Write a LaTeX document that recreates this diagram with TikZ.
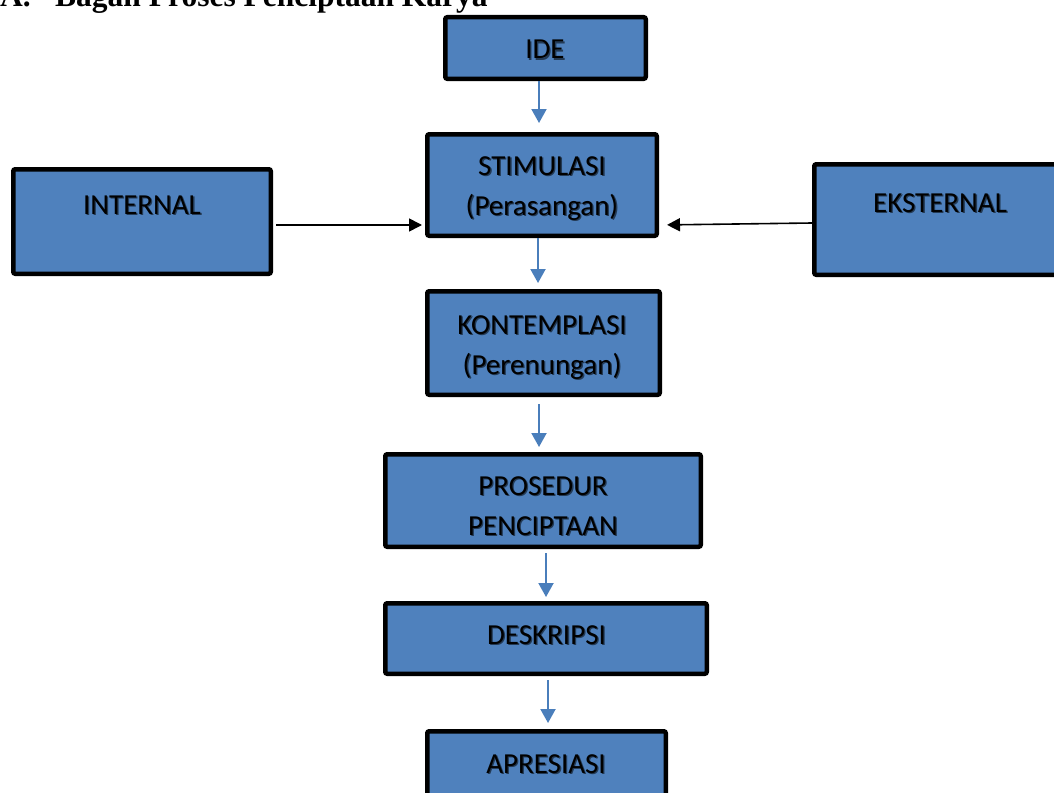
\documentclass[tikz,border=0pt]{standalone}
\usepackage{fontspec}
\setmainfont{Carlito}
\newfontfamily\titlefont{Liberation Serif}
\usetikzlibrary{arrows.meta,calc}
\definecolor{boxblue}{RGB}{79,129,189}
\definecolor{arrowblue}{RGB}{74,126,187}
\newcommand\shtext[1]{\leavevmode\rlap{\raisebox{-1.3pt}{\hspace{1.3pt}\textcolor{black!55!boxblue}{#1}}}#1}
\begin{document}
\begin{tikzpicture}[x=1pt,y=-1pt,
  box/.style={draw=black, line width=4.5pt, fill=boxblue, rounded corners=2pt, inner sep=0pt},
  lbl/.style={font=\fontsize{29}{40}\selectfont, inner sep=0pt, anchor=base},
  flow/.style={draw=arrowblue, line width=2pt, -{Triangle[length=14pt,width=15pt]}},
  side/.style={draw=black, line width=1.6pt, -{Triangle[length=13pt,width=13pt]}}]
\useasboundingbox (0,0) rectangle (1054,792);
\clip (0,0) rectangle (1054,792);
\fill[white] (0,0) rectangle (1054,792);
% title
\node[anchor=base west, inner sep=0pt, font=\titlefont\bfseries\fontsize{31.5}{36}\selectfont] (title) at (0,7) {\makebox[55pt][l]{A.}Bagan Proses Penciptaan Karya};
% boxes
\node[box, minimum width=200.5pt, minimum height=61.5pt] (ide) at (545.5,48) {};
\node[box, minimum width=229.5pt, minimum height=101.5pt] (stim) at (542,185) {};
\node[box, minimum width=257.5pt, minimum height=104.5pt] (internal) at (142,221.5) {};
\node[box, minimum width=249.5pt, minimum height=110.5pt] (ekst) at (939,219.5) {};
\node[box, minimum width=232.5pt, minimum height=103.5pt] (kont) at (543.5,343) {};
\node[box, minimum width=315.5pt, minimum height=92.5pt] (pros) at (543,500.5) {};
\node[box, minimum width=321.5pt, minimum height=70.5pt] (desk) at (546,638.5) {};
\node[box, minimum width=238.5pt, minimum height=71.5pt] (apre) at (546.5,767) {};
% labels
\node[lbl] (ideL) at (545,59) {\shtext{IDE}};
\node[lbl] (stimL) at (542,175) {\begin{tabular}[t]{@{}c@{}}\shtext{STIMULASI}\\\shtext{(Perasangan)}\end{tabular}};
\node[lbl] (internalL) at (142,214) {\shtext{INTERNAL}};
\node[lbl] (ekstL) at (940,212) {\shtext{EKSTERNAL}};
\node[lbl] (kontL) at (542,334) {\begin{tabular}[t]{@{}c@{}}\shtext{KONTEMPLASI}\\\shtext{(Perenungan)}\end{tabular}};
\node[lbl] (prosL) at (543,495) {\begin{tabular}[t]{@{}c@{}}\shtext{PROSEDUR}\\\shtext{PENCIPTAAN}\end{tabular}};
\node[lbl] (deskL) at (546.5,644) {\shtext{DESKRIPSI}};
\node[lbl] (apreL) at (546,773) {\shtext{APRESIASI}};
% blue flow arrows
\draw[flow, shorten >=9pt] (ide.south -| 539,0) -- (stim.north -| 539,0);
\draw[flow, shorten >=6pt] (stim.south -| 538,0) -- (kont.north -| 538,0);
\draw[flow, shorten <=7pt, shorten >=5pt] (kont.south -| 539,0) -- (pros.north -| 539,0);
\draw[flow, shorten <=4pt, shorten >=4pt] (pros.south -| 546,0) -- (desk.north -| 546,0);
\draw[flow, shorten <=4pt, shorten >=6pt] (desk.south -| 548,0) -- (apre.north -| 548,0);
% side arrows
\draw[side, shorten <=3pt, shorten >=3pt] ([yshift=-3.5pt]internal.east) -- ([yshift=-40pt]stim.west);
\draw[side, shorten >=8pt] ([yshift=-3.5pt]ekst.west) -- ([yshift=-40pt]stim.east);
\end{tikzpicture}
\end{document}
